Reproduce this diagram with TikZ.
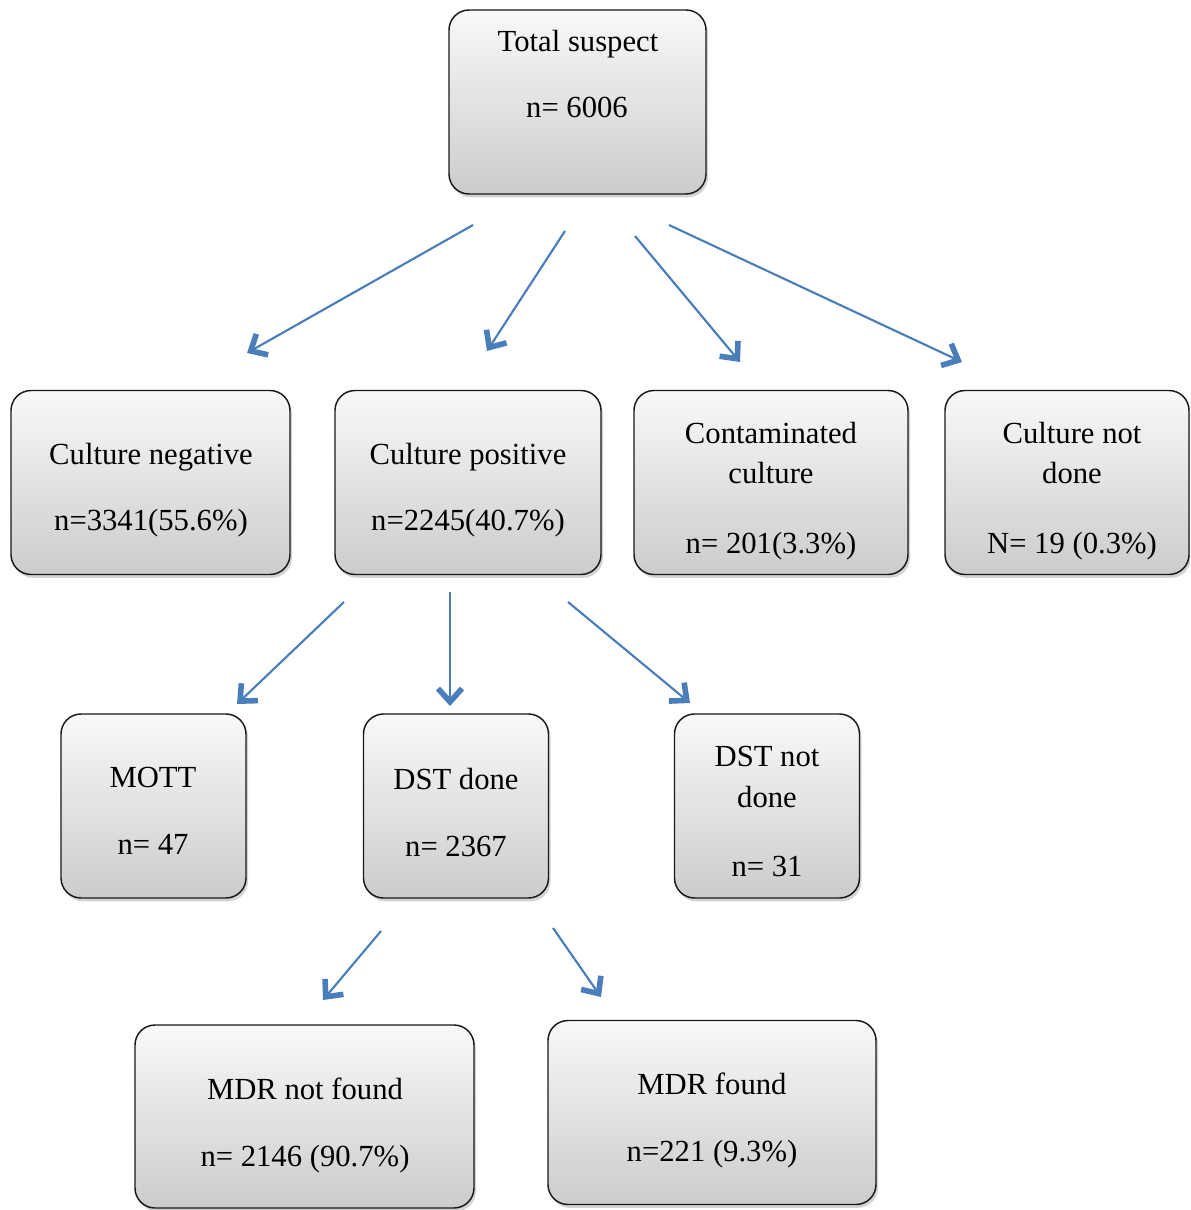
\documentclass[tikz,border=0pt]{standalone}
\usepackage{fontspec}
\setmainfont{Liberation Serif}
\usepackage{tikz}
\usetikzlibrary{arrows.meta,shadows}
\definecolor{arrowblue}{HTML}{4A7EBB}

\begin{document}
\begin{tikzpicture}[x=0.75pt,y=-0.75pt,
  font=\fontsize{23}{27}\selectfont,
  box/.style={draw=black!90,line width=1.1pt,rounded corners=15pt,
    top color=gray!5,bottom color=gray!40,inner sep=0pt,
    minimum height=138pt,
    drop shadow={shadow xshift=1.5pt,shadow yshift=-2.5pt,opacity=.35}},
  txt/.style={anchor=mid,inner sep=0pt},
  arr/.style={arrowblue,line width=1.6pt,
    -{Straight Barb[length=10pt,width=18pt,line width=4.2pt]}}]
\useasboundingbox (0,0) rectangle (1190,1210);
\clip (0,0) rectangle (1190,1210);
% ---- top level ----
\node[box,minimum width=192.75pt] (total) at (577.5,102) {};
\node[txt] (total-a) at (578,48) {Total suspect};
\node[txt] (total-b) at (577,114) {n= 6006};
% ---- culture results ----
\node[box,minimum width=209.25pt] (neg) at (150.5,482.5) {};
\node[txt] (neg-a) at (151,461) {Culture negative};
\node[txt] (neg-b) at (151,527) {n=3341(55.6\%)};
\node[box,minimum width=199.5pt] (pos) at (468,482.5) {};
\node[txt] (pos-a) at (468,461) {Culture positive};
\node[txt] (pos-b) at (468,527) {n=2245(40.7\%)};
\node[box,minimum width=205.5pt] (cont) at (771,482.5) {};
\node[txt] (cont-a) at (771,440) {Contaminated};
\node[txt] (cont-b) at (771,480) {culture};
\node[txt] (cont-c) at (771,550) {n= 201(3.3\%)};
\node[box,minimum width=183pt] (nd) at (1067,482.5) {};
\node[txt] (nd-a) at (1072,440) {Culture not};
\node[txt] (nd-b) at (1072,480) {done};
\node[txt] (nd-c) at (1072,550) {N= 19 (0.3\%)};
% ---- culture positive split ----
\node[box,minimum width=138.75pt] (mott) at (153.5,806) {};
\node[txt] (mott-a) at (153,784) {MOTT};
\node[txt] (mott-b) at (153,851) {n= 47};
\node[box,minimum width=138.75pt] (dst) at (456,806) {};
\node[txt] (dst-a) at (456,786) {DST done};
\node[txt] (dst-b) at (456,853) {n= 2367};
\node[box,minimum width=138.75pt] (dstn) at (767,806) {};
\node[txt] (dstn-a) at (767,763) {DST not};
\node[txt] (dstn-b) at (767,804) {done};
\node[txt] (dstn-c) at (767,873) {n= 31};
% ---- DST outcome ----
\node[box,minimum width=254.25pt,minimum height=137.25pt] (mdrn) at (304.5,1116.5) {};
\node[txt] (mdrn-a) at (305,1096) {MDR not found};
\node[txt] (mdrn-b) at (305,1163) {n= 2146 (90.7\%)};
\node[box,minimum width=246pt] (mdr) at (712,1112.5) {};
\node[txt] (mdr-a) at (712,1091) {MDR found};
\node[txt] (mdr-b) at (712,1158) {n=221 (9.3\%)};
% ---- arrow ends ----
\coordinate (s1) at (473,225);  \coordinate (e1) at (247,353);
\coordinate (s2) at (565,231);  \coordinate (e2) at (487,351);
\coordinate (s3) at (635,236);  \coordinate (e3) at (740,362);
\coordinate (s4) at (669,225);  \coordinate (e4) at (962,362);
\coordinate (s5) at (344,602);  \coordinate (e5) at (237,704);
\coordinate (s6) at (450,592);  \coordinate (e6) at (450,706);
\coordinate (s7) at (568,602);  \coordinate (e7) at (690,703);
\coordinate (s8) at (381,931);  \coordinate (e8) at (323,1000);
\coordinate (s9) at (553,928);  \coordinate (e9) at (601,997);
\foreach \i in {1,...,9}
  \draw[arr] (s\i) -- (e\i);
\end{tikzpicture}
\end{document}
